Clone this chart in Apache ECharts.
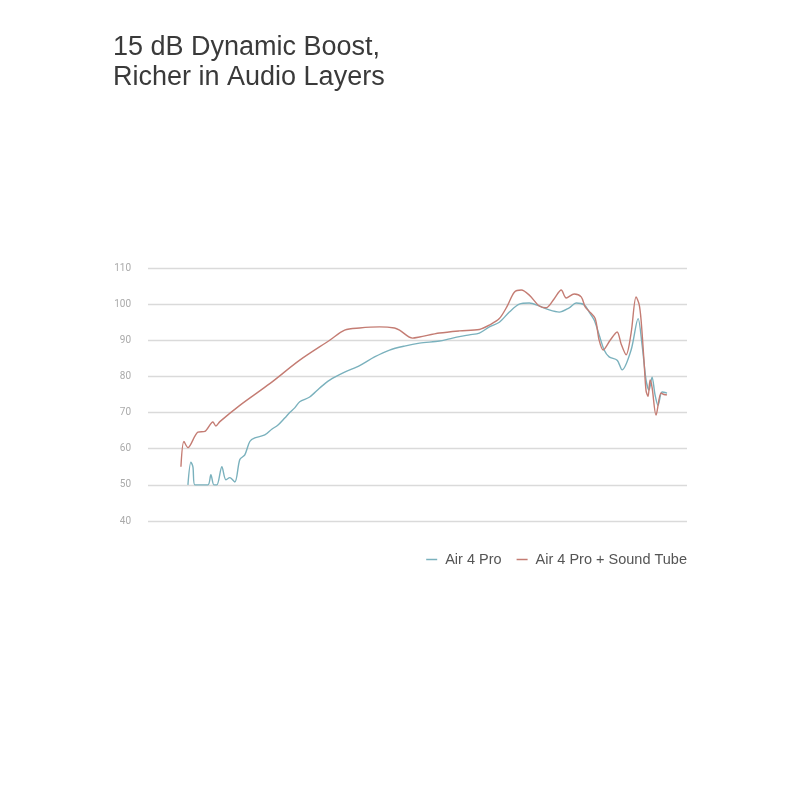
<!DOCTYPE html>
<html><head><meta charset="utf-8">
<script src="https://cdn.jsdelivr.net/npm/echarts@6/dist/echarts.min.js"></script>
<style>html,body{margin:0;padding:0;background:#fff}#c{width:800px;height:800px}</style>
</head><body><div id="c"></div>
<script>
const titleText = '15 dB Dynamic Boost,\nRicher in Audio Layers';
const yTicks = [40, 50, 60, 70, 80, 90, 100, 110];
const seriesNames = ['Air 4 Pro', 'Air 4 Pro + Sound Tube'];
// x = horizontal position (arbitrary frequency units, 0..540), y = dB
const air4ProX = [40,43,45,47,60,63,66,69,74,78,82,87,92,97,102,107,117,124,130,137,142,147,152,162,172,182,197,212,227,242,257,272,292,302,312,322,332,342,352,362,372,382,392,402,412,422,429,437,442,447,452,457,462,470,475,484,491,495,499,502,505,508,511,515,520];
const air4ProY = [50,56.3,55,50,50,52.8,50,50,55,51.4,52,50.8,57,58.3,62,63,63.8,65.4,66.5,68.5,70,71.3,73,74.3,76.8,79,81.2,83,85.4,87.3,88.4,89.2,89.8,90.4,91,91.5,92,93.7,95,97.8,100,100.3,99.5,98.4,97.8,99,100.3,99.8,97.8,95.6,91.5,87.3,85.4,84.5,81.8,87.3,96,88.7,79,76.2,79.8,74.9,72,75.7,75.4];
const soundTubeX = [33,36,40,50,57,65,68,72,92,122,152,182,197,212,232,247,252,265,272,292,312,332,342,352,360,367,374,382,392,399,407,414,419,427,434,438,442,448,452,456,463,470,474,479,484,489,492,494,497,499,501,503,505,509,514,517,520];
const soundTubeY = [55,62,60.3,64.6,64.8,67.4,66.3,67.5,72,78,84.5,90,92.8,93.4,93.7,93.4,92.8,90.6,90.9,92,92.6,93,94.2,96,99.5,103.3,103.9,102.5,99.5,99,101.5,103.9,101.7,102.8,102,99.2,98,96,90,87.3,90,92.3,89,86,92,102,100,95.6,84,76,74.5,79,77,69.3,75.4,75,74.9];

function pairs(xs, ys){ return xs.map((x,i)=>[x, ys[i]]); }

const chart = echarts.init(document.getElementById('c'), null, {renderer:'canvas'});
chart.setOption({
  backgroundColor:'#fff',
  animation:false,
  title:{text:titleText,left:108,top:28,textStyle:{fontFamily:'Liberation Sans',fontWeight:'normal',fontSize:27,lineHeight:30,color:'#3a3a3a'}},
  grid:{left:148,right:113,top:268,bottom:279,containLabel:false},
  xAxis:{type:'value',min:0,max:540,show:false},
  yAxis:{type:'value',min:40,max:110,interval:10,
    axisLine:{show:false},axisTick:{show:false},
    axisLabel:{color:'#aaaaaa',fontSize:10,fontFamily:'Roboto',margin:17,
      formatter:v=>yTicks.includes(v)?String(v):''},
    splitLine:{lineStyle:{color:'#dadada',width:1.4}}},
  legend:{right:108,top:547,itemWidth:11,itemHeight:1.5,itemGap:15,icon:'rect',
    textStyle:{color:'#555',fontSize:14.5,fontFamily:'Liberation Sans',padding:[0,0,0,3]},data:seriesNames},
  series:[
    {name:seriesNames[0],type:'line',data:pairs(air4ProX,air4ProY),smooth:0.3,symbol:'none',
      lineStyle:{color:'#7ab1bd',width:1.4},itemStyle:{color:'#7ab1bd'}},
    {name:seriesNames[1],type:'line',data:pairs(soundTubeX,soundTubeY),smooth:0.3,symbol:'none',
      lineStyle:{color:'#c47c73',width:1.4},itemStyle:{color:'#c47c73'}}
  ]
});
</script></body></html>
